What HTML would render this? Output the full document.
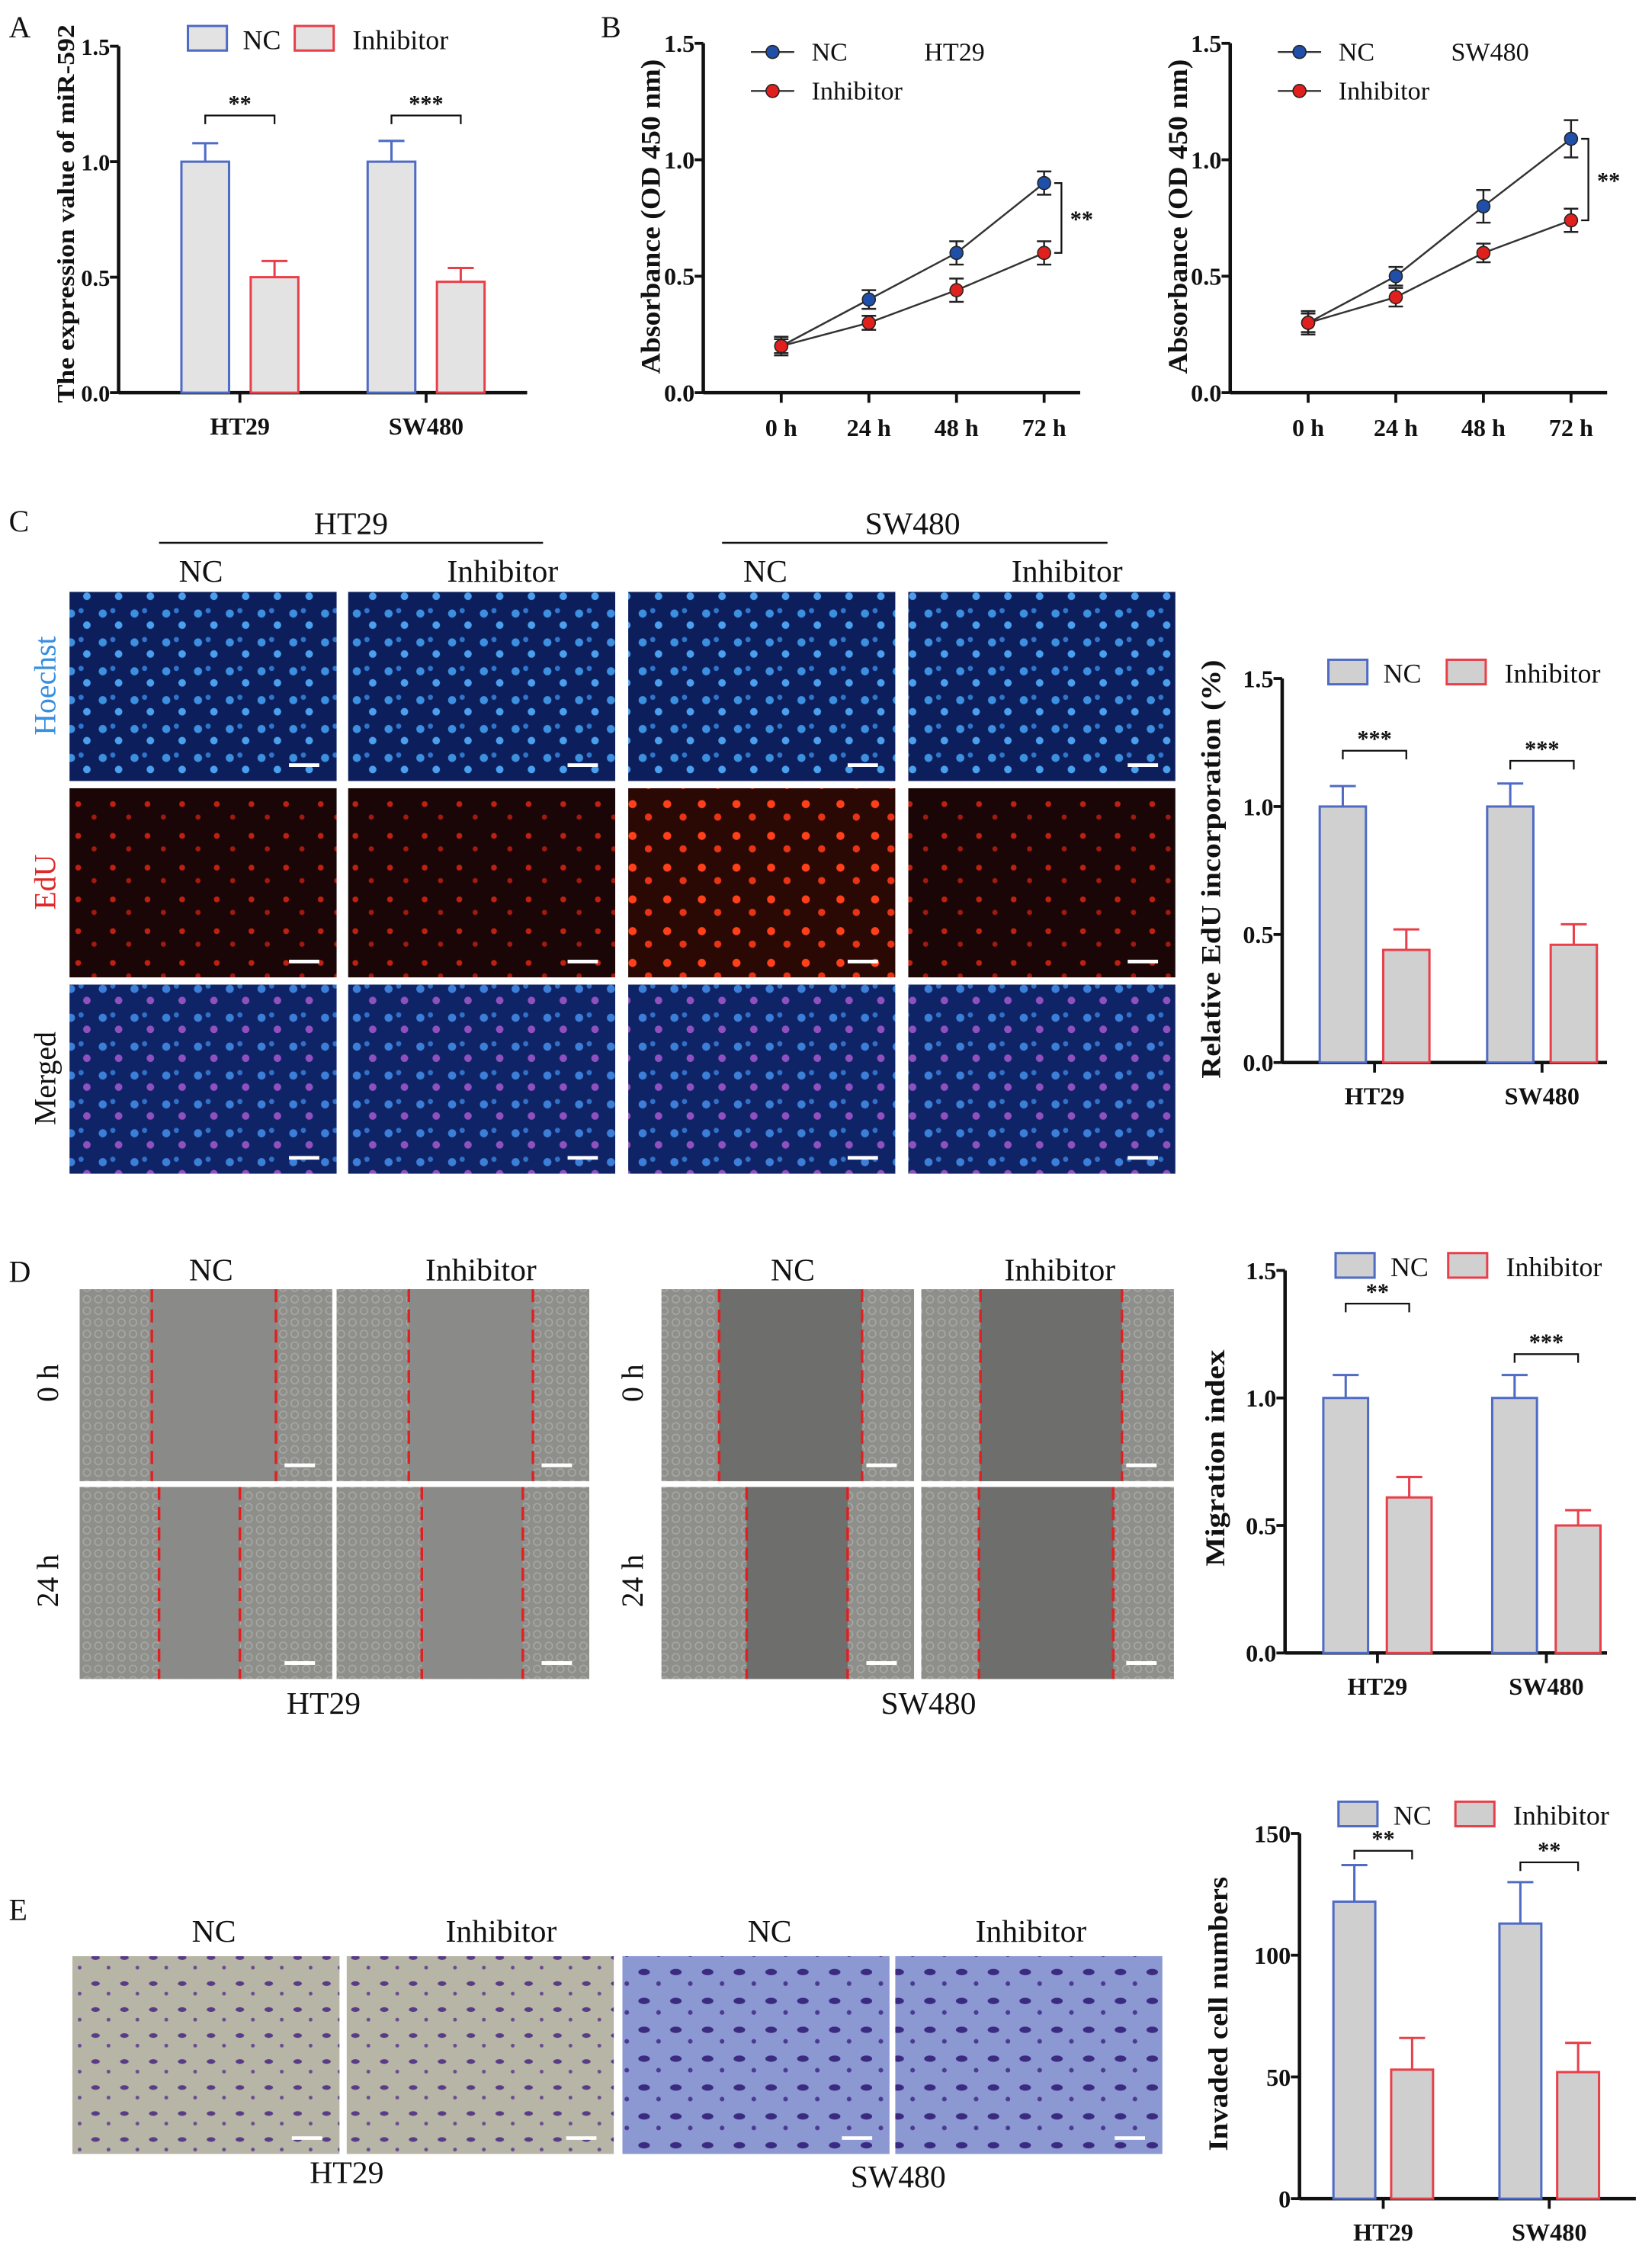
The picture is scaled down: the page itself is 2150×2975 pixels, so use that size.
<!DOCTYPE html>
<html><head><meta charset="utf-8"><style>
html,body{margin:0;padding:0;background:#fff}
svg{display:block}
text{font-family:"Liberation Serif",serif}
</style></head><body>
<svg id="fig" width="2150" height="2975" viewBox="0 0 1135 1571" xmlns="http://www.w3.org/2000/svg">
<defs>
<pattern id="hoe" width="22" height="20" patternUnits="userSpaceOnUse"><rect width="22" height="20" fill="#0c1f5c"/><circle cx="5" cy="5" r="2.8" fill="#3d8fe0"/><circle cx="16" cy="13" r="2.6" fill="#4aa0ee"/><circle cx="12" cy="3" r="1.8" fill="#2f75cc"/></pattern>
<pattern id="edu" width="24" height="22" patternUnits="userSpaceOnUse"><rect width="24" height="22" fill="#1a0606"/><circle cx="6" cy="7" r="2" fill="#c02010"/><circle cx="17" cy="16" r="1.8" fill="#a01a10"/></pattern>
<pattern id="edu2" width="24" height="22" patternUnits="userSpaceOnUse"><rect width="24" height="22" fill="#2a0804"/><circle cx="6" cy="7" r="2.8" fill="#ff4018"/><circle cx="17" cy="16" r="2.5" fill="#e83414"/></pattern>
<pattern id="mer" width="22" height="20" patternUnits="userSpaceOnUse"><rect width="22" height="20" fill="#0f2466"/><circle cx="5" cy="5" r="2.8" fill="#3c7fd8"/><circle cx="16" cy="13" r="2.6" fill="#9050c0"/><circle cx="12" cy="3" r="1.8" fill="#3070c8"/></pattern>
<pattern id="cells" width="8" height="8" patternUnits="userSpaceOnUse"><rect width="8" height="8" fill="#8e8e8a"/><circle cx="4" cy="4" r="2.5" fill="none" stroke="#a8a8a4" stroke-width="0.8"/></pattern>
<pattern id="invA" width="20" height="18" patternUnits="userSpaceOnUse"><rect width="20" height="18" fill="#b6b5a6"/><ellipse cx="6" cy="6" rx="3" ry="1.6" fill="#5a3c86"/><circle cx="15" cy="13" r="1.3" fill="#6a4c90"/></pattern>
<pattern id="invB" width="22" height="20" patternUnits="userSpaceOnUse"><rect width="22" height="20" fill="#8c98d2"/><ellipse cx="6" cy="6" rx="4" ry="2.2" fill="#3a2a80"/><circle cx="16" cy="14" r="1.6" fill="#4a3a90"/></pattern>
</defs>
<g id="root"></g>
</svg>
<script>
// ---- data ----
const groups = ["HT29","SW480"];
const aNC = [1.0, 1.0], aNCerr = [0.08, 0.09], aInh = [0.5, 0.48], aInhErr = [0.07, 0.06];
const aTicks = ["0.0","0.5","1.0","1.5"];
const timeLabels = ["0 h","24 h","48 h","72 h"];
const bHtNC = [0.2,0.4,0.6,0.9], bHtNCerr=[0.04,0.04,0.05,0.05];
const bHtInh = [0.2,0.3,0.44,0.6], bHtInhErr=[0.03,0.03,0.05,0.05];
const bSwNC = [0.3,0.5,0.8,1.09], bSwNCerr=[0.05,0.04,0.07,0.08];
const bSwInh = [0.3,0.41,0.6,0.74], bSwInhErr=[0.04,0.04,0.04,0.05];
const cNC=[1.0,1.0], cNCerr=[0.08,0.09], cInh=[0.44,0.46], cInhErr=[0.08,0.08];
const dNC=[1.0,1.0], dNCerr=[0.09,0.09], dInh=[0.61,0.5], dInhErr=[0.08,0.06];
const eNC=[122,113], eNCerr=[15,17], eInh=[53,52], eInhErr=[13,12];
const eTicks=["0","50","100","150"];

const NS="http://www.w3.org/2000/svg";
const root=document.getElementById('root');
function el(tag,attrs,parent,txt){const e=document.createElementNS(NS,tag);for(const k in attrs)e.setAttribute(k,attrs[k]);if(txt!==undefined)e.textContent=txt;(parent||root).appendChild(e);return e;}
function T(x,y,s,size,opt,parent){opt=opt||{};const a={x:x,y:y,'font-size':size,'text-anchor':opt.anchor||'middle',fill:opt.fill||'#111','font-weight':opt.bold?'bold':'normal'};
  if(opt.rot)a.transform=`rotate(-90 ${x} ${y})`;
  if(opt.len){a.textLength=opt.len;a.lengthAdjust='spacingAndGlyphs';}
  return el('text',a,parent,s);}

function barChart(name,cfg){
  const g=el('g',{});
  
  
  const y=v=>cfg.y0-(v/cfg.max)*(cfg.y0-cfg.y1);
  el('line',{x1:cfg.ax,y1:cfg.y1,x2:cfg.ax,y2:cfg.y0,stroke:'#111','stroke-width':2.4},g);
  el('line',{x1:cfg.ax,y1:cfg.y0,x2:cfg.xe,y2:cfg.y0,stroke:'#111','stroke-width':2.4},g);
  cfg.ticks.forEach((t,i)=>{const v=cfg.max*i/(cfg.ticks.length-1);const yy=y(v);
    el('line',{x1:cfg.ax-6,y1:yy,x2:cfg.ax,y2:yy,stroke:'#111','stroke-width':2},g);
    const tx=T(cfg.ax-6,yy+6,t,cfg.tickSize||17,{anchor:'end',bold:true},g);
    });
  const yt=T(cfg.titleX,cfg.titleY,cfg.title,cfg.titleSize||19,{bold:true,rot:true,len:cfg.titleLen},g);
  
  groups.forEach((gn,i)=>{
    const c=cfg.gx[i];
    el('line',{x1:c,y1:cfg.y0,x2:c,y2:cfg.y0+7,stroke:'#111','stroke-width':2},g);
    const lb=T(c,cfg.y0+29,gn,17,{bold:true},g);
    
    [[cfg.nc,cfg.ncE,'#4f6bc4',-1],[cfg.inh,cfg.inhE,'#e8404a',1]].forEach(([vals,errs,col,s])=>{
      const cx=c+s*cfg.off, w=cfg.bw, top=y(vals[i]);
      const r=el('rect',{x:cx-w/2,y:top,width:w,height:cfg.y0-top,fill:cfg.fill,stroke:col,'stroke-width':1.6},g);
      
      
      const et=y(vals[i]+errs[i]);
      el('line',{x1:cx,y1:top,x2:cx,y2:et,stroke:col,'stroke-width':1.6},g);
      el('line',{x1:cx-9,y1:et,x2:cx+9,y2:et,stroke:col,'stroke-width':1.6},g);
    });
    const bk=cfg.br[i];
    el('path',{d:`M${c-cfg.off} ${bk+6}V${bk}H${c+cfg.off}V${bk+6}`,fill:'none',stroke:'#111','stroke-width':1.2},g);
    const st=T(c,bk-3,cfg.sig[i],16,{bold:true},g);
    
  });
  const L=cfg.leg;
  const l1=el('rect',{x:L[0],y:L[1],width:27,height:17,fill:cfg.fill,stroke:'#4f6bc4','stroke-width':1.6},g);
  
  T(L[0]+38,L[1]+16,'NC',19,{anchor:'start'},g);
  const l2=el('rect',{x:L[2],y:L[1],width:27,height:17,fill:cfg.fill,stroke:'#e8404a','stroke-width':1.6},g);
  
  T(L[2]+40,L[1]+16,'Inhibitor',19,{anchor:'start'},g);
}

function lineChart(name,cfg){
  const g=el('g',{});
  
  
  const y=v=>cfg.y0-(v/1.5)*(cfg.y0-cfg.y1);
  const x=i=>cfg.x0+i*cfg.dx;
  el('line',{x1:cfg.ax,y1:cfg.y1,x2:cfg.ax,y2:cfg.y0,stroke:'#111','stroke-width':2.4},g);
  el('line',{x1:cfg.ax,y1:cfg.y0,x2:x(3)+25,y2:cfg.y0,stroke:'#111','stroke-width':2.4},g);
  aTicks.forEach((t,i)=>{const yy=y(0.5*i);
    el('line',{x1:cfg.ax-6,y1:yy,x2:cfg.ax,y2:yy,stroke:'#111','stroke-width':2},g);
    T(cfg.ax-6,yy+6,t,17,{anchor:'end',bold:true},g);});
  timeLabels.forEach((t,i)=>{el('line',{x1:x(i),y1:cfg.y0,x2:x(i),y2:cfg.y0+7,stroke:'#111','stroke-width':2},g);
    T(x(i),cfg.y0+30,t,17,{bold:true},g);});
  T(cfg.ax-30,150,'Absorbance  (OD 450 nm)',19,{bold:true,rot:true,len:218},g);
  [[cfg.nc,cfg.ncE,'#1f4fa8'],[cfg.inh,cfg.inhE,'#e0201c']].forEach(([v,e,col],si)=>{
    el('polyline',{points:v.map((d,i)=>x(i)+','+y(d)).join(' '),fill:'none',stroke:'#333','stroke-width':1.3},g);
    v.forEach((d,i)=>{
      el('line',{x1:x(i),y1:y(d+e[i]),x2:x(i),y2:y(d-e[i]),stroke:'#222','stroke-width':1.3},g);
      el('line',{x1:x(i)-5,y1:y(d+e[i]),x2:x(i)+5,y2:y(d+e[i]),stroke:'#222','stroke-width':1.3},g);
      el('line',{x1:x(i)-5,y1:y(d-e[i]),x2:x(i)+5,y2:y(d-e[i]),stroke:'#222','stroke-width':1.3},g);
      const p=el('circle',{cx:x(i),cy:y(d),r:4.5,fill:col,stroke:'#222','stroke-width':0.8},g);
      
      
    });
  });
  const bx=x(3)+12, ya=y(cfg.nc[3]), yb=y(cfg.inh[3]);
  el('path',{d:`M${bx-5} ${ya}H${bx}V${yb}H${bx-5}`,fill:'none',stroke:'#111','stroke-width':1.2},g);
  T(bx+14,(ya+yb)/2+6,'**',16,{bold:true},g);
  const lx=cfg.ax+48, ly=cfg.y1+6;
  [['NC','#1f4fa8',0],['Inhibitor','#e0201c',27]].forEach(([n,c,o])=>{
    el('line',{x1:lx-15,y1:ly+o,x2:lx+15,y2:ly+o,stroke:'#333','stroke-width':1.3},g);
    el('circle',{cx:lx,cy:ly+o,r:4.5,fill:c,stroke:'#222','stroke-width':0.8},g);
    T(lx+27,ly+o+6,n,18,{anchor:'start'},g);});
  T(lx+105,ly+6,cfg.cell,18,{anchor:'start'},g);
}

function img(name,x,y,w,h,fill,bar){const r=el('rect',{x:x,y:y,width:w,height:h,fill:fill});
  
  if(bar) el('line',{x1:x+w-33,y1:y+h-11,x2:x+w-12,y2:y+h-11,stroke:'#fff','stroke-width':2.5});}

[['A',6,26],['B',416,26],['C',6,368],['D',6,888],['E',6,1330]].forEach(([l,x,y])=>{const t=T(x,y,l,21,{anchor:'start'});});

barChart('chart-a',{ax:82,y0:272,y1:32,xe:365,max:1.5,ticks:aTicks,tickSize:16,gx:[166,295],off:24,bw:33,fill:'#e3e3e3',
  nc:aNC,ncE:aNCerr,inh:aInh,inhE:aInhErr,br:[80,80],sig:['**','***'],title:'The expression value of miR-592',titleX:51,titleY:148,titleLen:262,titleSize:17,leg:[130,18,204]});
lineChart('chart-b-ht29',{ax:487,y0:272,y1:30,x0:541,dx:60.7,nc:bHtNC,ncE:bHtNCerr,inh:bHtInh,inhE:bHtInhErr,cell:'HT29'});
lineChart('chart-b-sw480',{ax:852,y0:272,y1:30,x0:906,dx:60.7,nc:bSwNC,ncE:bSwNCerr,inh:bSwInh,inhE:bSwInhErr,cell:'SW480'});

T(243,370,'HT29',22);el('line',{x1:110,y1:376,x2:376,y2:376,stroke:'#111','stroke-width':1.3});
T(632,370,'SW480',22);el('line',{x1:500,y1:376,x2:767,y2:376,stroke:'#111','stroke-width':1.3});
[[139,'NC'],[348,'Inhibitor'],[530,'NC'],[739,'Inhibitor']].forEach(([x,s])=>T(x,403,s,22));
const cX=[48,241,435,629], cY=[410,546,682];
const fills=[['url(#hoe)','url(#hoe)','url(#hoe)','url(#hoe)'],['url(#edu)','url(#edu)','url(#edu2)','url(#edu)'],['url(#mer)','url(#mer)','url(#mer)','url(#mer)']];
cY.forEach((yy,r)=>cX.forEach((xx,c)=>img('edu-image-r'+r+'c'+c,xx,yy,185,131,fills[r][c],true)));
T(38,475,'Hoechst',21,{rot:true,fill:'#3a8ee0'});T(38,611,'EdU',21,{rot:true,fill:'#e02828'});T(38,747,'Merged',21,{rot:true});
barChart('chart-c',{ax:888,y0:736,y1:470,xe:1113,max:1.5,ticks:aTicks,gx:[952,1068],off:22,bw:32,fill:'#d0d0d0',
  nc:cNC,ncE:cNCerr,inh:cInh,inhE:cInhErr,br:[520,527],sig:['***','***'],title:'Relative EdU incorporation (%)',titleX:845,titleY:602,titleLen:290,leg:[920,457,1002]});

[[146,'NC'],[333,'Inhibitor'],[549,'NC'],[734,'Inhibitor']].forEach(([x,s])=>T(x,887,s,22));
const dX=[55,233,458,638], dY=[893,1030];
const dash=[[[105,191],[283,369],[498,597],[679,777]],[[110,166],[292,362],[517,587],[678,771]]];
dY.forEach((yy,r)=>dX.forEach((xx,c)=>{img('wound-image-r'+r+'c'+c,xx,yy,175,133,'url(#cells)',true);
  const [a,b]=dash[r][c];el('rect',{x:a,y:yy,width:b-a,height:133,fill:(c>1?'#6e6e6c':'#8a8a88')});
  dash[r][c].forEach(v=>el('line',{x1:v,y1:yy,x2:v,y2:yy+133,stroke:'#e02020','stroke-width':1.8,'stroke-dasharray':'9 5'}));
  el('line',{x1:xx+175-33,y1:yy+122,x2:xx+175-12,y2:yy+122,stroke:'#fff','stroke-width':2.5});}));
T(40,958,'0 h',21,{rot:true});T(40,1095,'24 h',21,{rot:true});T(445,958,'0 h',21,{rot:true});T(445,1095,'24 h',21,{rot:true});
T(224,1187,'HT29',22);T(643,1187,'SW480',22);
barChart('chart-d',{ax:890,y0:1145,y1:880,xe:1113,max:1.5,ticks:aTicks,gx:[954,1071],off:22,bw:31,fill:'#d0d0d0',
  nc:dNC,ncE:dNCerr,inh:dInh,inhE:dInhErr,br:[903,938],sig:['**','***'],title:'Migration index',titleX:848,titleY:1010,titleLen:150,leg:[925,868,1003]});

[[148,'NC'],[347,'Inhibitor'],[533,'NC'],[714,'Inhibitor']].forEach(([x,s])=>T(x,1345,s,22));
[[50,'url(#invA)'],[240,'url(#invA)'],[431,'url(#invB)'],[620,'url(#invB)']].forEach(([x,f],i)=>img('invasion-image-'+i,x,1355,185,137,f,true));
T(240,1512,'HT29',22);T(622,1515,'SW480',22);
barChart('chart-e',{ax:900,y0:1523,y1:1270,xe:1133,max:150,ticks:eTicks,gx:[958,1073],off:20,bw:29,fill:'#cfcfcf',
  nc:eNC,ncE:eNCerr,inh:eInh,inhE:eInhErr,br:[1282,1290],sig:['**','**'],title:'Invaded cell numbers',titleX:850,titleY:1395,titleLen:190,leg:[927,1248,1008]});
</script>
</body></html>
